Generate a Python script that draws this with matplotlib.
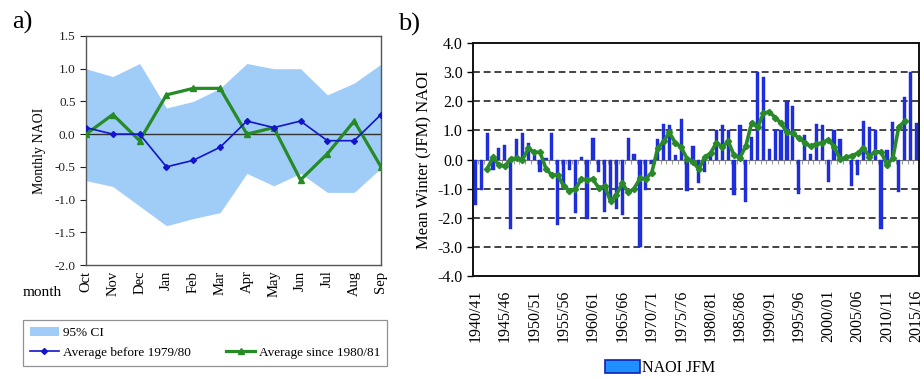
import matplotlib
matplotlib.use("Agg")
import matplotlib.pyplot as plt
from matplotlib.patches import Patch
from matplotlib.lines import Line2D
from matplotlib.ticker import NullFormatter
import numpy as np

plt.rcParams['font.family'] = ['Liberation Serif', 'DejaVu Serif']

# ---------------- Panel a data ----------------
months = ["Oct", "Nov", "Dec", "Jan", "Feb", "Mar", "Apr", "May", "Jun", "Jul", "Aug", "Sep"]
ci_upper = [1.0, 0.88, 1.08, 0.4, 0.5, 0.7, 1.08, 1.0, 1.0, 0.6, 0.78, 1.07]
ci_lower = [-0.71, -0.8, -1.1, -1.4, -1.29, -1.2, -0.6, -0.79, -0.6, -0.89, -0.89, -0.52]
avg_before = [0.1, 0.0, 0.0, -0.5, -0.4, -0.2, 0.2, 0.1, 0.2, -0.1, -0.1, 0.3]
avg_since = [0.0, 0.3, -0.1, 0.6, 0.7, 0.7, 0.0, 0.1, -0.7, -0.3, 0.2, -0.5]
a_yticks = [1.5, 1.0, 0.5, 0.0, -0.5, -1.0, -1.5, -2.0]

# ---------------- Panel b data ----------------
first_year = 1940
naoi_jfm = [-1.55, -1.05, 0.9, -0.35, 0.38, 0.5, -2.4, 0.72, 0.9, 0.55,
            0.15, -0.42, 0.05, 0.9, -2.25, -1.0, -0.35, -1.85, 0.1, -2.05,
            0.75, -0.42, -1.8, -1.4, -1.7, -1.9, 0.75, 0.2, -3.0, -1.05,
            -0.15, 0.72, 1.22, 1.17, 0.15, 1.4, -1.07, 0.47, -0.8, -0.42,
            0.15, 1.0, 1.17, 1.02, -1.22, 1.2, -1.45, 0.77, 3.0, 2.82,
            0.37, 1.0, 1.0, 2.0, 1.84, -1.18, 0.83, 0.2, 1.22, 1.2,
            -0.76, 1.0, 0.72, 0.05, -0.9, -0.53, 1.32, 1.1, 1.0, -2.38,
            0.32, 1.28, -1.13, 2.13, 3.0, 1.25]
# 5-year running mean (seasons 1942/43 .. 2013/14)
ma_start = 2
naoi_ma = [-0.33, 0.08, -0.19, -0.23, 0.02, 0.05, -0.02, 0.38, 0.25, 0.25,
           -0.31, -0.54, -0.53, -0.91, -1.07, -1.03, -0.68, -0.69, -0.68, -0.98,
           -0.91, -1.44, -1.21, -0.81, -1.13, -1.0, -0.65, -0.66, -0.45, 0.38,
           0.62, 0.93, 0.57, 0.42, 0.03, -0.08, -0.33, 0.08, 0.22, 0.58,
           0.42, 0.63, 0.14, 0.06, 0.46, 1.27, 1.10, 1.59, 1.64, 1.44,
           1.24, 0.93, 0.90, 0.74, 0.58, 0.45, 0.54, 0.57, 0.68, 0.44,
           0.02, 0.07, 0.13, 0.21, 0.40, 0.10, 0.27, 0.26, -0.18, 0.04,
           1.12, 1.31]
b_xticklabels = ["1940/41", "1945/46", "1950/51", "1955/56", "1960/61", "1965/66",
                 "1970/71", "1975/76", "1980/81", "1985/86", "1990/91", "1995/96",
                 "2000/01", "2005/06", "2010/11", "2015/16"]
b_yticks = [4.0, 3.0, 2.0, 1.0, 0.0, -1.0, -2.0, -3.0, -4.0]
b_grid = [3.0, 2.0, 1.0, -1.0, -2.0, -3.0]

W, H = 924, 379
fig = plt.figure(figsize=(W / 100, H / 100), dpi=100)

# ======================= Panel a =======================
axa = fig.add_axes([86 / W, 1 - 265 / H, (381 - 86) / W, (265 - 36) / H])
xm = np.arange(len(months))
ci_color = '#9fcdf7'
axa.fill_between(xm, ci_lower, ci_upper, color=ci_color, lw=0, zorder=1)
axa.axhline(0, color='#333333', lw=1.0, zorder=2)
lb, = axa.plot(xm, avg_before, color='#1414c8', lw=1.2, marker='D', ms=3,
               zorder=4)
lg, = axa.plot(xm, avg_since, color='#268a26', lw=2.3, marker='^', ms=4.5,
               zorder=3)
axa.set_xlim(0, len(months) - 1)
axa.set_ylim(-2.0, 1.5)
axa.set_yticks(a_yticks)
axa.set_yticklabels([f"{v:.1f}" for v in a_yticks], fontsize=9.5)
axa.set_xticks(xm)
axa.set_xticklabels(months, rotation=90, fontsize=10.5)
axa.tick_params(axis='x', length=0, pad=4)
axa.tick_params(axis='y', length=4, direction='out', width=0.8, colors='#222222')
axa.set_ylabel("Monthly NAOI", fontsize=10, labelpad=6)
for s in axa.spines.values():
    s.set_color('#555555')
    s.set_linewidth(1.0)
# little ticks on the zero line
seca = axa.secondary_xaxis(2.0 / 3.5)
seca.set_xticks(xm)
seca.xaxis.set_major_formatter(NullFormatter())
seca.tick_params(axis='x', direction='in', length=3, color='#333333')
seca.spines['bottom'].set_visible(False)
seca.spines['top'].set_visible(False)
fig.text(42 / W, 1 - 292 / H, "month", fontsize=11, ha='center', va='center')
fig.text(12 / W, 1 - 22 / H, "a)", fontsize=19, ha='left', va='center')

empty = Line2D([], [], lw=0, marker=None)
leg_a = fig.legend(handles=[Patch(facecolor=ci_color, edgecolor='none'), lb, empty, lg],
                   labels=["95% CI", "Average before 1979/80", "", "Average since 1980/81"],
                   ncol=2, loc='upper left', mode='expand',
                   bbox_to_anchor=(23 / W, 1 - 367 / H, 364 / W, 47 / H),
                   fontsize=9.5, frameon=True, fancybox=False, edgecolor='#777777',
                   handlelength=2.2, handletextpad=0.3, borderaxespad=0,
                   labelspacing=0.6, borderpad=0.5)
leg_a.get_frame().set_linewidth(0.9)

# ======================= Panel b =======================
axb = fig.add_axes([473.3 / W, 1 - 276 / H, (919 - 473.3) / W, (276 - 43) / H])
xs = np.arange(len(naoi_jfm))
axb.bar(xs, naoi_jfm, width=0.55, color='#1f2fe0', edgecolor='#1a28c8',
        linewidth=0.3, zorder=3)
for gy in b_grid:
    axb.axhline(gy, color='#111111', lw=1.1, ls=(0, (4.5, 2.5)), zorder=1)
axb.axhline(0, color='#777777', lw=0.8, zorder=2)
xma = xs[ma_start:ma_start + len(naoi_ma)]
axb.plot(xma, naoi_ma, color='#2a8a2a', lw=2.6, marker='D', ms=3.2, zorder=4)
axb.set_xlim(-0.35, len(naoi_jfm) - 0.55)
axb.set_ylim(-4.0, 4.0)
axb.set_yticks(b_yticks)
axb.set_yticklabels([f"{v:.1f}" for v in b_yticks], fontsize=11.5)
axb.set_xticks(xs[::5])
axb.set_xticklabels(b_xticklabels, rotation=90, fontsize=11.5)
axb.tick_params(axis='x', length=0, pad=10)
axb.tick_params(axis='y', length=4, direction='out', width=1.0)
axb.set_ylabel("Mean Winter (JFM) NAOI", fontsize=12, labelpad=4)
for s in axb.spines.values():
    s.set_color('#111111')
    s.set_linewidth(1.4)
secb = axb.secondary_xaxis(0.5)
secb.set_xticks(xs[:-1] + 0.5)
secb.xaxis.set_major_formatter(NullFormatter())
secb.xaxis.set_ticks_position('bottom')
secb.tick_params(axis='x', direction='out', length=3, color='#999999', width=0.8)
secb.spines['bottom'].set_visible(False)
secb.spines['top'].set_visible(False)
fig.text(398 / W, 1 - 24 / H, "b)", fontsize=19, ha='left', va='center')

fig.legend(handles=[Patch(facecolor='#1e90ff', edgecolor='#1020b0', linewidth=1.2)],
           labels=["NAOI JFM"], loc='center',
           bbox_to_anchor=(660 / W, 1 - 368 / H), frameon=False, fontsize=11.5,
           handlelength=2.2, handleheight=0.8, handletextpad=0.1)

fig.savefig("out.png", dpi=100)
